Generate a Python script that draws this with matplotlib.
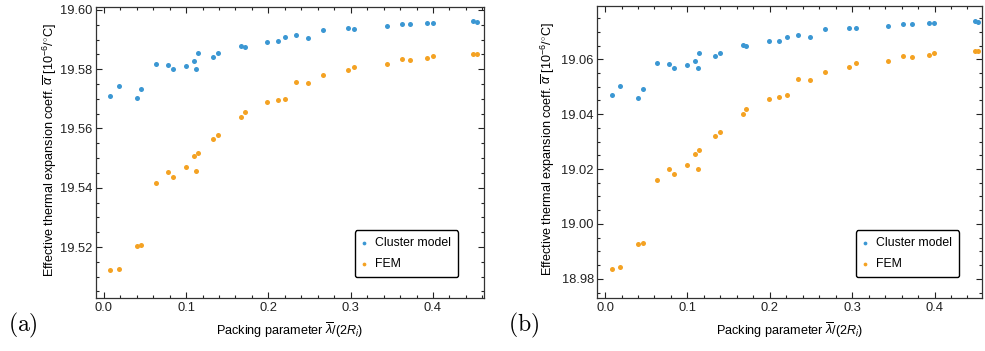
import numpy as np
import matplotlib
matplotlib.use("Agg")
import matplotlib.pyplot as plt
from matplotlib.ticker import MultipleLocator, FormatStrFormatter

plt.rcParams['font.family'] = ['Liberation Sans', 'DejaVu Sans']
plt.rcParams['mathtext.fontset'] = 'custom'
plt.rcParams['mathtext.rm'] = 'Liberation Sans'
plt.rcParams['mathtext.it'] = 'Liberation Sans:italic'
plt.rcParams['mathtext.bf'] = 'Liberation Sans:bold'

# packing parameter lambda/(2R_i), same samples in both panels
packing = [0.008, 0.018, 0.0405, 0.0457, 0.0632, 0.0778, 0.0842, 0.100, 0.1094, 0.1125,
           0.1146, 0.1332, 0.1393, 0.1672, 0.1713, 0.1988, 0.2114, 0.2207, 0.234, 0.2486,
           0.2665, 0.2965, 0.3045, 0.3439, 0.3621, 0.3726, 0.3928, 0.3998, 0.4491, 0.4532]

# panel (a)
a_cluster = [19.5710, 19.5742, 19.5702, 19.5732, 19.5819, 19.5814, 19.5801, 19.5812, 19.5828, 19.5801,
             19.5855, 19.5841, 19.5855, 19.5880, 19.5876, 19.5893, 19.5894, 19.5908, 19.5915, 19.5907,
             19.5934, 19.5939, 19.5937, 19.5946, 19.5954, 19.5953, 19.5955, 19.5955, 19.5962, 19.5958]
a_fem = [19.5122, 19.5127, 19.5202, 19.5208, 19.5416, 19.5454, 19.5437, 19.5469, 19.5506, 19.5456,
         19.5518, 19.5565, 19.5577, 19.5638, 19.5657, 19.5690, 19.5696, 19.5700, 19.5758, 19.5754,
         19.5782, 19.5797, 19.5809, 19.5817, 19.5834, 19.5830, 19.5837, 19.5844, 19.5851, 19.5852]

# panel (b)
b_cluster = [19.0469, 19.0504, 19.0460, 19.0493, 19.0585, 19.0582, 19.0567, 19.0578, 19.0595, 19.0567,
             19.0624, 19.0611, 19.0624, 19.0651, 19.0647, 19.0666, 19.0667, 19.0681, 19.0689, 19.0680,
             19.0709, 19.0715, 19.0713, 19.0722, 19.0730, 19.0729, 19.0731, 19.0732, 19.0740, 19.0737]
b_fem = [18.9835, 18.9842, 18.9925, 18.9931, 19.0159, 19.0200, 19.0181, 19.0215, 19.0255, 19.0201,
         19.0270, 19.0321, 19.0334, 19.0400, 19.0420, 19.0456, 19.0464, 19.0469, 19.0529, 19.0526,
         19.0555, 19.0573, 19.0585, 19.0594, 19.0612, 19.0608, 19.0616, 19.0623, 19.0631, 19.0631]

blue = "#3b97d3"
orange = "#f4a223"
W, H = 985, 351

fig = plt.figure(figsize=(W/100, H/100), dpi=100)
ax1 = fig.add_axes([96/W, 53/H, 388/W, 291/H])
ax2 = fig.add_axes([597.3/W, 53/H, 385/W, 292/H])

panels = [(ax1, a_cluster, a_fem, (-0.0094, 0.462), (19.5028, 19.601), 0.933, -0.095),
          (ax2, b_cluster, b_fem, (-0.0094, 0.458), (18.973, 19.0794), 0.940, -0.105)]

for ax, clu, fem, xl, yl, lx, ylx in panels:
    ax.scatter(packing, clu, s=13, color=blue, linewidths=0, label="Cluster model", zorder=3)
    ax.scatter(packing, fem, s=13, color=orange, linewidths=0, label="FEM", zorder=3)
    ax.set_xlim(*xl)
    ax.set_ylim(*yl)
    ax.xaxis.set_major_locator(MultipleLocator(0.1))
    ax.xaxis.set_minor_locator(MultipleLocator(0.02))
    ax.yaxis.set_major_locator(MultipleLocator(0.02))
    ax.yaxis.set_minor_locator(MultipleLocator(0.005))
    ax.xaxis.set_major_formatter(FormatStrFormatter('%.1f'))
    ax.yaxis.set_major_formatter(FormatStrFormatter('%.2f'))
    ax.tick_params(which='both', direction='in', top=True, right=True,
                   labelsize=9.3, colors='#222222', width=0.8)
    ax.tick_params(which='major', length=4)
    ax.tick_params(which='minor', length=2.3)
    ax.tick_params(axis='y', pad=2.5)
    ax.tick_params(axis='x', pad=3)
    for sp in ax.spines.values():
        sp.set_color('#333333')
        sp.set_linewidth(0.9)
    ax.set_xlabel(r'Packing parameter $\overline{\lambda}/(2R_i)$', fontsize=9.1)
    ax.set_ylabel(r'Effective thermal expansion coeff. $\overline{\alpha}$ [10$^{-6}$/$^{\circ}$C]',
                  fontsize=9.1)
    ax.xaxis.set_label_coords(0.5, -0.08)
    ax.yaxis.set_label_coords(ylx, 0.51)
    leg = ax.legend(loc='lower right', bbox_to_anchor=(lx, 0.072), borderaxespad=0,
                    fontsize=8.8, handlelength=0.4, handletextpad=0.75, labelspacing=0.75,
                    borderpad=0.55, markerscale=0.75, fancybox=True, framealpha=1,
                    edgecolor='black')
    leg.get_frame().set_linewidth(1.0)

fig.text(8/W, 1 - 325/H, r'$\mathrm{(a)}$', fontsize=17, math_fontfamily='cm', va='center')
fig.text(508/W, 1 - 325/H, r'$\mathrm{(b)}$', fontsize=17, math_fontfamily='cm', va='center')

fig.savefig("out.png", dpi=100)
